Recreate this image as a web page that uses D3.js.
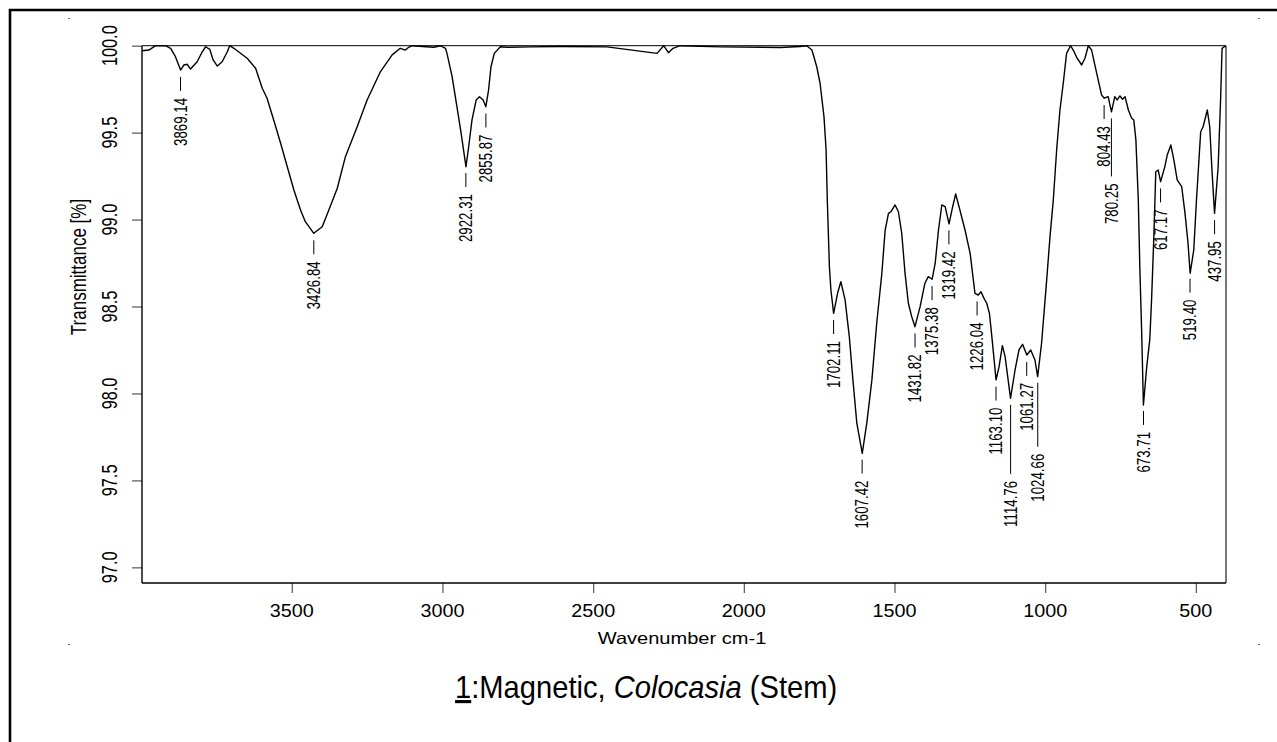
<!DOCTYPE html>
<html><head><meta charset="utf-8">
<script src="https://cdn.jsdelivr.net/npm/d3@7"></script>
<style>body{margin:0;background:#fff}svg{display:block}text{font-family:"Liberation Sans",Arial,sans-serif;fill:#000}</style>
</head><body><svg id="c" width="1277" height="742"></svg>
<script>
// ---- data ----
const wavenumbers = [
 3996,3974,3952,3919,3902,3886,3869,3858,3847,3836,
 3814,3797,3786,3772,3761,3747,3731,3714,3706,3692,
 3648,3620,3598,3582,3560,3537,3515,3493,3471,3455,
 3427,3399,3377,3349,3322,3283,3250,3206,3167,3140,
 3123,3112,3101,3029,3007,2990,2985,2968,2952,2938,
 2922,2913,2902,2888,2877,2865,2856,2847,2839,2828,
 2808,2786,2708,2609,2454,2288,2266,2250,2235,2211,
 2078,1879,1813,1791,1774,1758,1747,1734,1727,1723,
 1716,1711,1702,1689,1678,1664,1650,1638,1625,1607,
 1592,1575,1559,1542,1531,1520,1512,1498,1487,1476,
 1465,1454,1443,1432,1415,1399,1388,1375,1365,1354,
 1343,1332,1319,1307,1297,1283,1266,1249,1233,1222,
 1213,1203,1194,1185,1177,1163,1153,1142,1133,1115,
 1100,1087,1075,1061,1048,1034,1025,1012,995,984,
 973,962,951,940,929,916,907,894,879,868,
 857,846,829,813,804,791,780,769,761,752,
 743,735,724,713,706,699,691,686,680,674,
 663,653,647,639,633,625,617,603,595,583,
 573,562,547,536,526,519,507,498,484,476,
 462,454,446,438,426,418,413,401];
const transmittance = [
 99.971,99.975,100.0,100.0,99.985,99.937,99.860,99.889,99.893,99.866,
 99.908,99.965,99.994,99.979,99.918,99.883,99.908,99.965,100.0,99.985,
 99.928,99.870,99.755,99.698,99.573,99.439,99.304,99.170,99.055,98.988,
 98.921,98.959,99.055,99.180,99.362,99.534,99.688,99.850,99.947,99.985,
 99.975,99.991,100.0,99.991,100.0,99.985,99.956,99.822,99.649,99.496,
 99.304,99.419,99.573,99.688,99.707,99.688,99.649,99.745,99.879,99.956,
 99.994,99.991,99.993,99.995,99.993,99.956,100.0,99.960,99.985,100.0,
 99.993,99.990,99.995,100.0,99.975,99.879,99.784,99.592,99.400,99.113,
 98.729,98.595,98.461,98.576,98.643,98.538,98.327,98.078,97.829,97.656,
 97.829,98.078,98.404,98.691,98.940,99.036,99.045,99.084,99.045,98.921,
 98.691,98.519,98.442,98.384,98.499,98.634,98.672,98.657,98.749,98.940,
 99.084,99.074,98.975,99.074,99.147,99.055,98.940,98.806,98.576,98.566,
 98.585,98.547,98.519,98.461,98.327,98.078,98.154,98.275,98.212,97.972,
 98.135,98.250,98.283,98.221,98.250,98.193,98.097,98.289,98.653,98.902,
 99.113,99.400,99.630,99.784,99.956,100.0,99.975,99.928,99.889,99.928,
 100.0,99.975,99.841,99.717,99.698,99.707,99.620,99.707,99.688,99.711,
 99.692,99.707,99.630,99.583,99.573,99.458,99.113,98.729,98.365,97.934,
 98.154,98.308,98.538,98.921,99.275,99.285,99.218,99.304,99.371,99.429,
 99.343,99.228,99.189,99.036,98.864,98.691,98.825,99.113,99.505,99.534,
 99.630,99.534,99.266,99.036,99.304,99.688,99.985,100.0];
const peakWavenumbers = [3869.14,3426.84,2922.31,2855.87,1702.11,1607.42,1431.82,1375.38,1319.42,1226.04,
 1163.10,1114.76,1061.27,1024.66,804.43,780.25,673.71,617.17,519.40,437.95];
const peakLabels = ["3869.14","3426.84","2922.31","2855.87","1702.11","1607.42","1431.82","1375.38","1319.42","1226.04",
 "1163.10","1114.76","1061.27","1024.66","804.43","780.25","673.71","617.17","519.40","437.95"];
const peakLeaderExtra = [0,0,0,0,0,0,0,0,0,0, 0,55,0,50,0,44,0,0,0,0];
const xTicks = [3500,3000,2500,2000,1500,1000,500];
const yTicks = [97.0,97.5,98.0,98.5,99.0,99.5,100.0];
const xTitle = "Wavenumber cm-1";
const yTitle = "Transmittance [%]";

// ---- drawing ----
const svg = d3.select('#c');
const M = {left:142, right:1226, top:45.7, bottom:583};
const x = d3.scaleLinear().domain([3997,400]).range([M.left,M.right]);
const y = d3.scaleLinear().domain([96.91,100]).range([M.bottom,M.top]);

// outer frame (left + top only visible)
svg.append('path').attr('d','M10,742V10H1277').attr('fill','none').attr('stroke','#000').attr('stroke-width',2.6);
// small corner marks
[[69,18],[69,644],[1259,18],[1259,644]].forEach(([a,b])=>
  svg.append('rect').attr('x',a-1).attr('y',b).attr('width',2).attr('height',1).attr('fill','#666'));

// axes ticks
const gx = svg.append('g').attr('transform',`translate(0,${M.bottom})`)
  .call(d3.axisBottom(x).tickValues(xTicks).tickSize(10).tickFormat(''));
const gy = svg.append('g').attr('transform',`translate(${M.left},0)`)
  .call(d3.axisLeft(y).tickValues(yTicks).tickSize(10).tickFormat(''));
[gx,gy].forEach(g=>{g.select('.domain').remove(); g.selectAll('line').attr('stroke','#555').attr('stroke-width',1.2);});

// plot frame
svg.append('line').attr('x1',M.left).attr('x2',M.right).attr('y1',M.top).attr('y2',M.top).attr('stroke','#000').attr('stroke-width',1);
svg.append('line').attr('x1',M.right).attr('x2',M.right).attr('y1',M.top).attr('y2',M.bottom).attr('stroke','#777').attr('stroke-width',2);
svg.append('line').attr('x1',M.left).attr('x2',M.right).attr('y1',M.bottom).attr('y2',M.bottom).attr('stroke','#000').attr('stroke-width',1.4);
svg.append('line').attr('x1',M.left).attr('x2',M.left).attr('y1',M.top).attr('y2',M.bottom).attr('stroke','#000').attr('stroke-width',1.4);

// tick labels
svg.append('g').selectAll('text').data(xTicks).join('text')
  .attr('transform',d=>`translate(${x(d)},617) scale(1.07,1)`)
  .attr('text-anchor','middle').attr('font-size',18.5).text(d=>d);
svg.append('g').selectAll('text').data(yTicks).join('text')
  .attr('transform',d=>`translate(109.5,${y(d)}) scale(1.35,1) rotate(-90)`)
  .attr('text-anchor','middle').attr('dominant-baseline','central').attr('font-size',16.3).text(d=>d.toFixed(1));

// axis titles
svg.append('text').attr('transform',`translate(${(M.left+M.right)/2-2},644) scale(1.23,1)`)
  .attr('text-anchor','middle').attr('font-size',16.3).text(xTitle);
svg.append('text').attr('transform',`translate(78,267) scale(1.3,1) rotate(-90)`)
  .attr('text-anchor','middle').attr('dominant-baseline','central').attr('font-size',17).text(yTitle);

// spectrum
const pts = wavenumbers.map((w,i)=>[w,transmittance[i]]);
svg.append('path').datum(pts)
  .attr('d',d3.line().x(d=>x(d[0])).y(d=>y(d[1])))
  .attr('fill','none').attr('stroke','#000').attr('stroke-width',1.4).attr('stroke-linejoin','round');

// peak labels
function interp(w){
  for(let i=0;i<wavenumbers.length-1;i++){
    const a=wavenumbers[i], b=wavenumbers[i+1];
    if(w<=a && w>=b){ const t=(a-w)/(a-b); return transmittance[i]+(transmittance[i+1]-transmittance[i])*t; }
  }
  return 100;
}
const pg = svg.append('g');
peakWavenumbers.forEach((w,i)=>{
  const px = x(w), py = y(interp(w)), ex = peakLeaderExtra[i];
  pg.append('line').attr('x1',px).attr('x2',px).attr('y1',py+7).attr('y2',py+21+ex)
    .attr('stroke','#000').attr('stroke-width',1);
  pg.append('text').attr('transform',`translate(${px},${py+28+ex}) scale(1.33,1) rotate(-90)`)
    .attr('text-anchor','end').attr('dominant-baseline','central').attr('font-size',13.3).text(peakLabels[i]);
});

// title
const tt = svg.append('text').attr('transform','translate(455,698) scale(0.94,1)').attr('font-size',31);
tt.append('tspan').attr('text-decoration','underline').text('1');
tt.append('tspan').text(':Magnetic, ');
tt.append('tspan').attr('font-style','italic').text('Colocasia');
tt.append('tspan').text(' (Stem)');
</script></body></html>
